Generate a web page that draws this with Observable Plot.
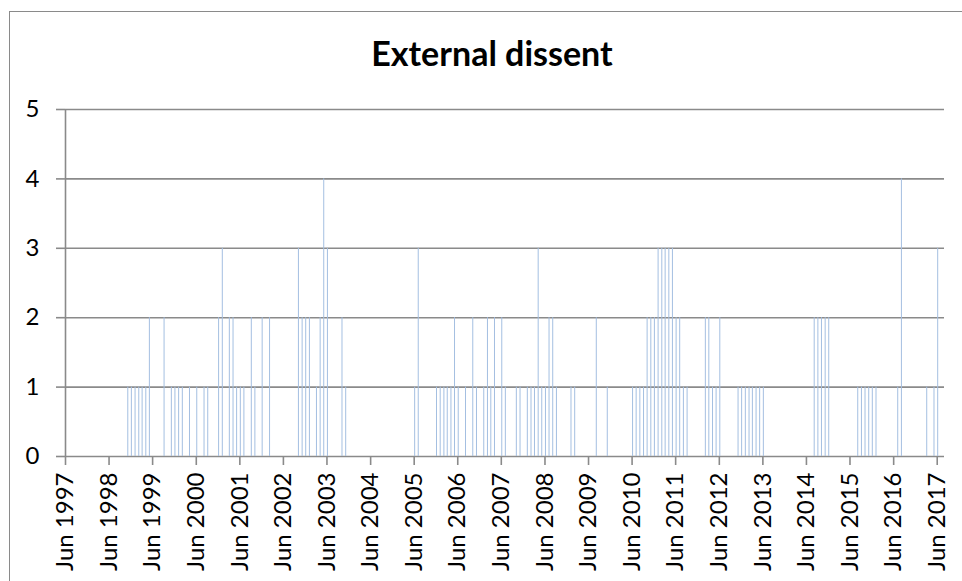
<!DOCTYPE html>
<html><head><meta charset="utf-8">
<script src="https://cdn.jsdelivr.net/npm/d3@7"></script>
<script src="https://cdn.jsdelivr.net/npm/@observablehq/plot@0.6"></script>
<style>
html,body{margin:0;padding:0;background:#fff;overflow:hidden;}
#wrap{position:relative;width:962px;height:581px;overflow:hidden;}
#frame{position:absolute;left:9px;top:11px;width:1000px;height:1000px;border:1px solid #8a8a8a;box-sizing:border-box;}
#title{position:absolute;left:0;top:33px;width:984px;text-align:center;font-family:Lato,"Open Sans",sans-serif;font-weight:700;font-size:34px;line-height:40px;color:#000;}
#chart{position:absolute;left:0;top:0;}
</style></head><body>
<div id="wrap"><div id="frame"></div><div id="title"></div><div id="chart"></div></div>
<script>
const chartTitle = "External dissent";

// Month of each MPC vote with external dissent, and the number of dissenting votes
const months = [
  "1998-11","1998-12","1999-01","1999-02","1999-03","1999-04","1999-05",
  "1999-09","1999-11","1999-12","2000-01","2000-02","2000-04","2000-06","2000-08","2000-09",
  "2000-12","2001-01","2001-03","2001-04","2001-05","2001-06","2001-07","2001-09","2001-10","2001-12",
  "2002-02","2002-10","2002-11","2002-12","2003-01","2003-03","2003-04","2003-05","2003-06",
  "2003-10","2003-11",
  "2005-06","2005-07","2005-12","2006-01","2006-02","2006-03","2006-04","2006-05","2006-06",
  "2006-08","2006-10","2006-11","2007-01","2007-02","2007-03","2007-04","2007-06","2007-07",
  "2007-10","2007-11","2008-01","2008-02","2008-03","2008-04","2008-05","2008-06","2008-07",
  "2008-08","2008-09","2009-01","2009-02","2009-08","2009-11",
  "2010-06","2010-07","2010-08","2010-09","2010-10","2010-11","2010-12","2011-01","2011-02",
  "2011-03","2011-04","2011-05","2011-06","2011-07","2011-08","2011-09",
  "2012-02","2012-03","2012-04","2012-05","2012-06",
  "2012-11","2012-12","2013-01","2013-02","2013-03","2013-04","2013-05","2013-06",
  "2014-08","2014-09","2014-10","2014-11","2014-12",
  "2015-08","2015-09","2015-10","2015-11","2015-12","2016-01",
  "2016-07","2016-08","2017-03","2017-05","2017-06"
];
const dissents = [
  1,1,1,1,1,1,2,
  2,1,1,1,1,1,1,1,1,
  2,3,2,2,1,1,1,2,1,2,
  2,3,2,2,2,1,2,4,3,
  2,1,
  1,3,1,1,1,1,1,2,1,
  1,2,1,1,2,1,2,2,1,
  1,1,1,1,1,3,1,1,2,
  2,1,1,1,2,1,
  1,1,1,1,2,2,2,3,3,
  3,3,3,2,2,1,1,
  2,2,1,1,2,
  1,1,1,1,1,1,1,1,
  2,2,2,2,2,
  1,1,1,1,1,1,
  1,4,1,1,3
];
const axisStart = "1997-06";
const axisEnd = "2017-08";
const tickYears = d3.range(1997, 2018);
const yTicks = [0, 1, 2, 3, 4, 5];

const parseMonth = d3.utcParse("%Y-%m");
const votes = months.map((m, i) => ({date: d3.utcDay.offset(parseMonth(m), 4), value: dissents[i]}));
const x0 = parseMonth(axisStart);
const tickDates = tickYears.map(y => new Date(Date.UTC(y, 5, 1)));

document.getElementById("title").textContent = chartTitle;

const grey = "#8a8a8a";
const plot = Plot.plot({
  width: 962,
  height: 581,
  marginLeft: 65,
  marginRight: 18,
  marginTop: 109,
  marginBottom: 125,
  style: {fontFamily: "Lato, 'Open Sans', sans-serif", fontSize: "24px", color: "#000", background: "transparent", overflow: "visible"},
  x: {type: "utc", domain: [x0, parseMonth(axisEnd)]},
  y: {domain: [0, 5]},
  marks: [
    Plot.ruleY(yTicks, {stroke: grey, strokeWidth: 1.6}),
    Plot.ruleX(votes, {x: "date", y1: 0, y2: "value", stroke: "#a4bfe1", strokeWidth: 1}),
    Plot.ruleX([x0], {y1: 0, y2: 5, stroke: grey, strokeWidth: 1.6}),
    Plot.axisY({ticks: yTicks, tickSize: 9, tickPadding: 17, stroke: grey, strokeWidth: 1.6, fill: "#000", label: null, tickFormat: d3.format("d")}),
    Plot.axisX({ticks: tickDates, tickSize: 9, tickPadding: 7, tickRotate: -90, stroke: grey, strokeWidth: 1.6, fill: "#000", label: null, tickFormat: d3.utcFormat("%b %Y")})
  ]
});
document.getElementById("chart").appendChild(plot);
</script>
</body></html>
